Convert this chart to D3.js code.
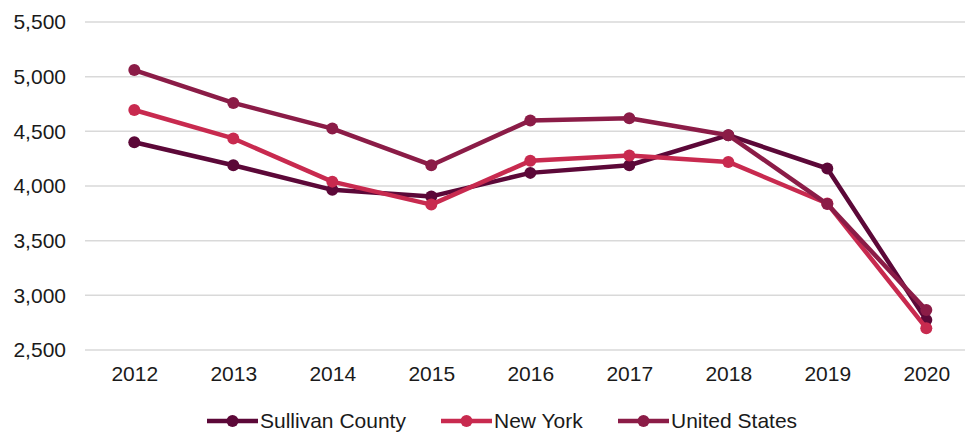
<!DOCTYPE html>
<html>
<head>
<meta charset="utf-8">
<script src="https://cdn.jsdelivr.net/npm/d3@7"></script>
<style>
  body { margin: 0; background: #fff; }
  text { font-family: "Liberation Sans", Arial, sans-serif; fill: #1a1a1a; }
</style>
</head>
<body>
<div id="chart"></div>
<script>
const years = ["2012", "2013", "2014", "2015", "2016", "2017", "2018", "2019", "2020"];
const sullivan = [4400, 4190, 3965, 3905, 4120, 4190, 4465, 4160, 2775];
const newYork = [4695, 4435, 4040, 3830, 4230, 4280, 4220, 3840, 2700];
const unitedStates = [5060, 4760, 4525, 4190, 4600, 4620, 4465, 3835, 2865];
const yTicks = [2500, 3000, 3500, 4000, 4500, 5000, 5500];

const series = [
  { name: "Sullivan County", values: sullivan, color: "#5c0838" },
  { name: "New York", values: newYork, color: "#c82a4f" },
  { name: "United States", values: unitedStates, color: "#8b1c47" }
];

const totalWidth = 965, totalHeight = 433;
const svg = d3.select("#chart").append("svg")
  .attr("width", totalWidth)
  .attr("height", totalHeight);

const x = d3.scalePoint()
  .domain(years)
  .range([134.3, 926.3]);

const y = d3.scaleLinear()
  .domain([2500, 5500])
  .range([350, 22]);

// gridlines
svg.append("g")
  .selectAll("line")
  .data(yTicks)
  .enter().append("line")
  .attr("x1", 85)
  .attr("x2", 965)
  .attr("y1", d => y(d))
  .attr("y2", d => y(d))
  .attr("stroke", "#d9d9d9")
  .attr("stroke-width", 1.5);

// y axis labels
const yAxis = d3.axisLeft(y).tickValues(yTicks).tickFormat(d3.format(",")).tickSize(0).tickPadding(0);
svg.append("g")
  .attr("transform", "translate(66,0)")
  .call(yAxis)
  .call(g => g.select(".domain").remove())
  .selectAll("text")
  .style("font-size", "21px")
  .style("font-family", "Liberation Sans, Arial, sans-serif")
  .attr("fill", "#1a1a1a");

// x axis labels
const xAxis = d3.axisBottom(x).tickSize(0).tickPadding(0);
svg.append("g")
  .attr("transform", "translate(0,366)")
  .call(xAxis)
  .call(g => g.select(".domain").remove())
  .selectAll("text")
  .style("font-size", "21px")
  .style("font-family", "Liberation Sans, Arial, sans-serif")
  .attr("fill", "#1a1a1a");

const line = d3.line()
  .x((d, i) => x(years[i]))
  .y(d => y(d));

series.forEach(s => {
  const g = svg.append("g");
  g.append("path")
    .datum(s.values)
    .attr("fill", "none")
    .attr("stroke", s.color)
    .attr("stroke-width", 4.5)
    .attr("stroke-linejoin", "round")
    .attr("d", line);
  g.selectAll("circle")
    .data(s.values)
    .enter().append("circle")
    .attr("cx", (d, i) => x(years[i]))
    .attr("cy", d => y(d))
    .attr("r", 6)
    .attr("fill", s.color);
});

// legend
const legendX = [207, 441, 618];
const legend = svg.append("g");
series.forEach((s, i) => {
  const lg = legend.append("g").attr("transform", `translate(${legendX[i]},421)`);
  lg.append("line")
    .attr("x1", 0).attr("x2", 51)
    .attr("y1", 0).attr("y2", 0)
    .attr("stroke", s.color)
    .attr("stroke-width", 4.5);
  lg.append("circle")
    .attr("cx", 25.5).attr("cy", 0).attr("r", 6)
    .attr("fill", s.color);
  lg.append("text")
    .attr("x", 53)
    .attr("y", 0)
    .attr("dy", "0.35em")
    .style("font-size", "21px")
    .text(s.name);
});
</script>
</body>
</html>
